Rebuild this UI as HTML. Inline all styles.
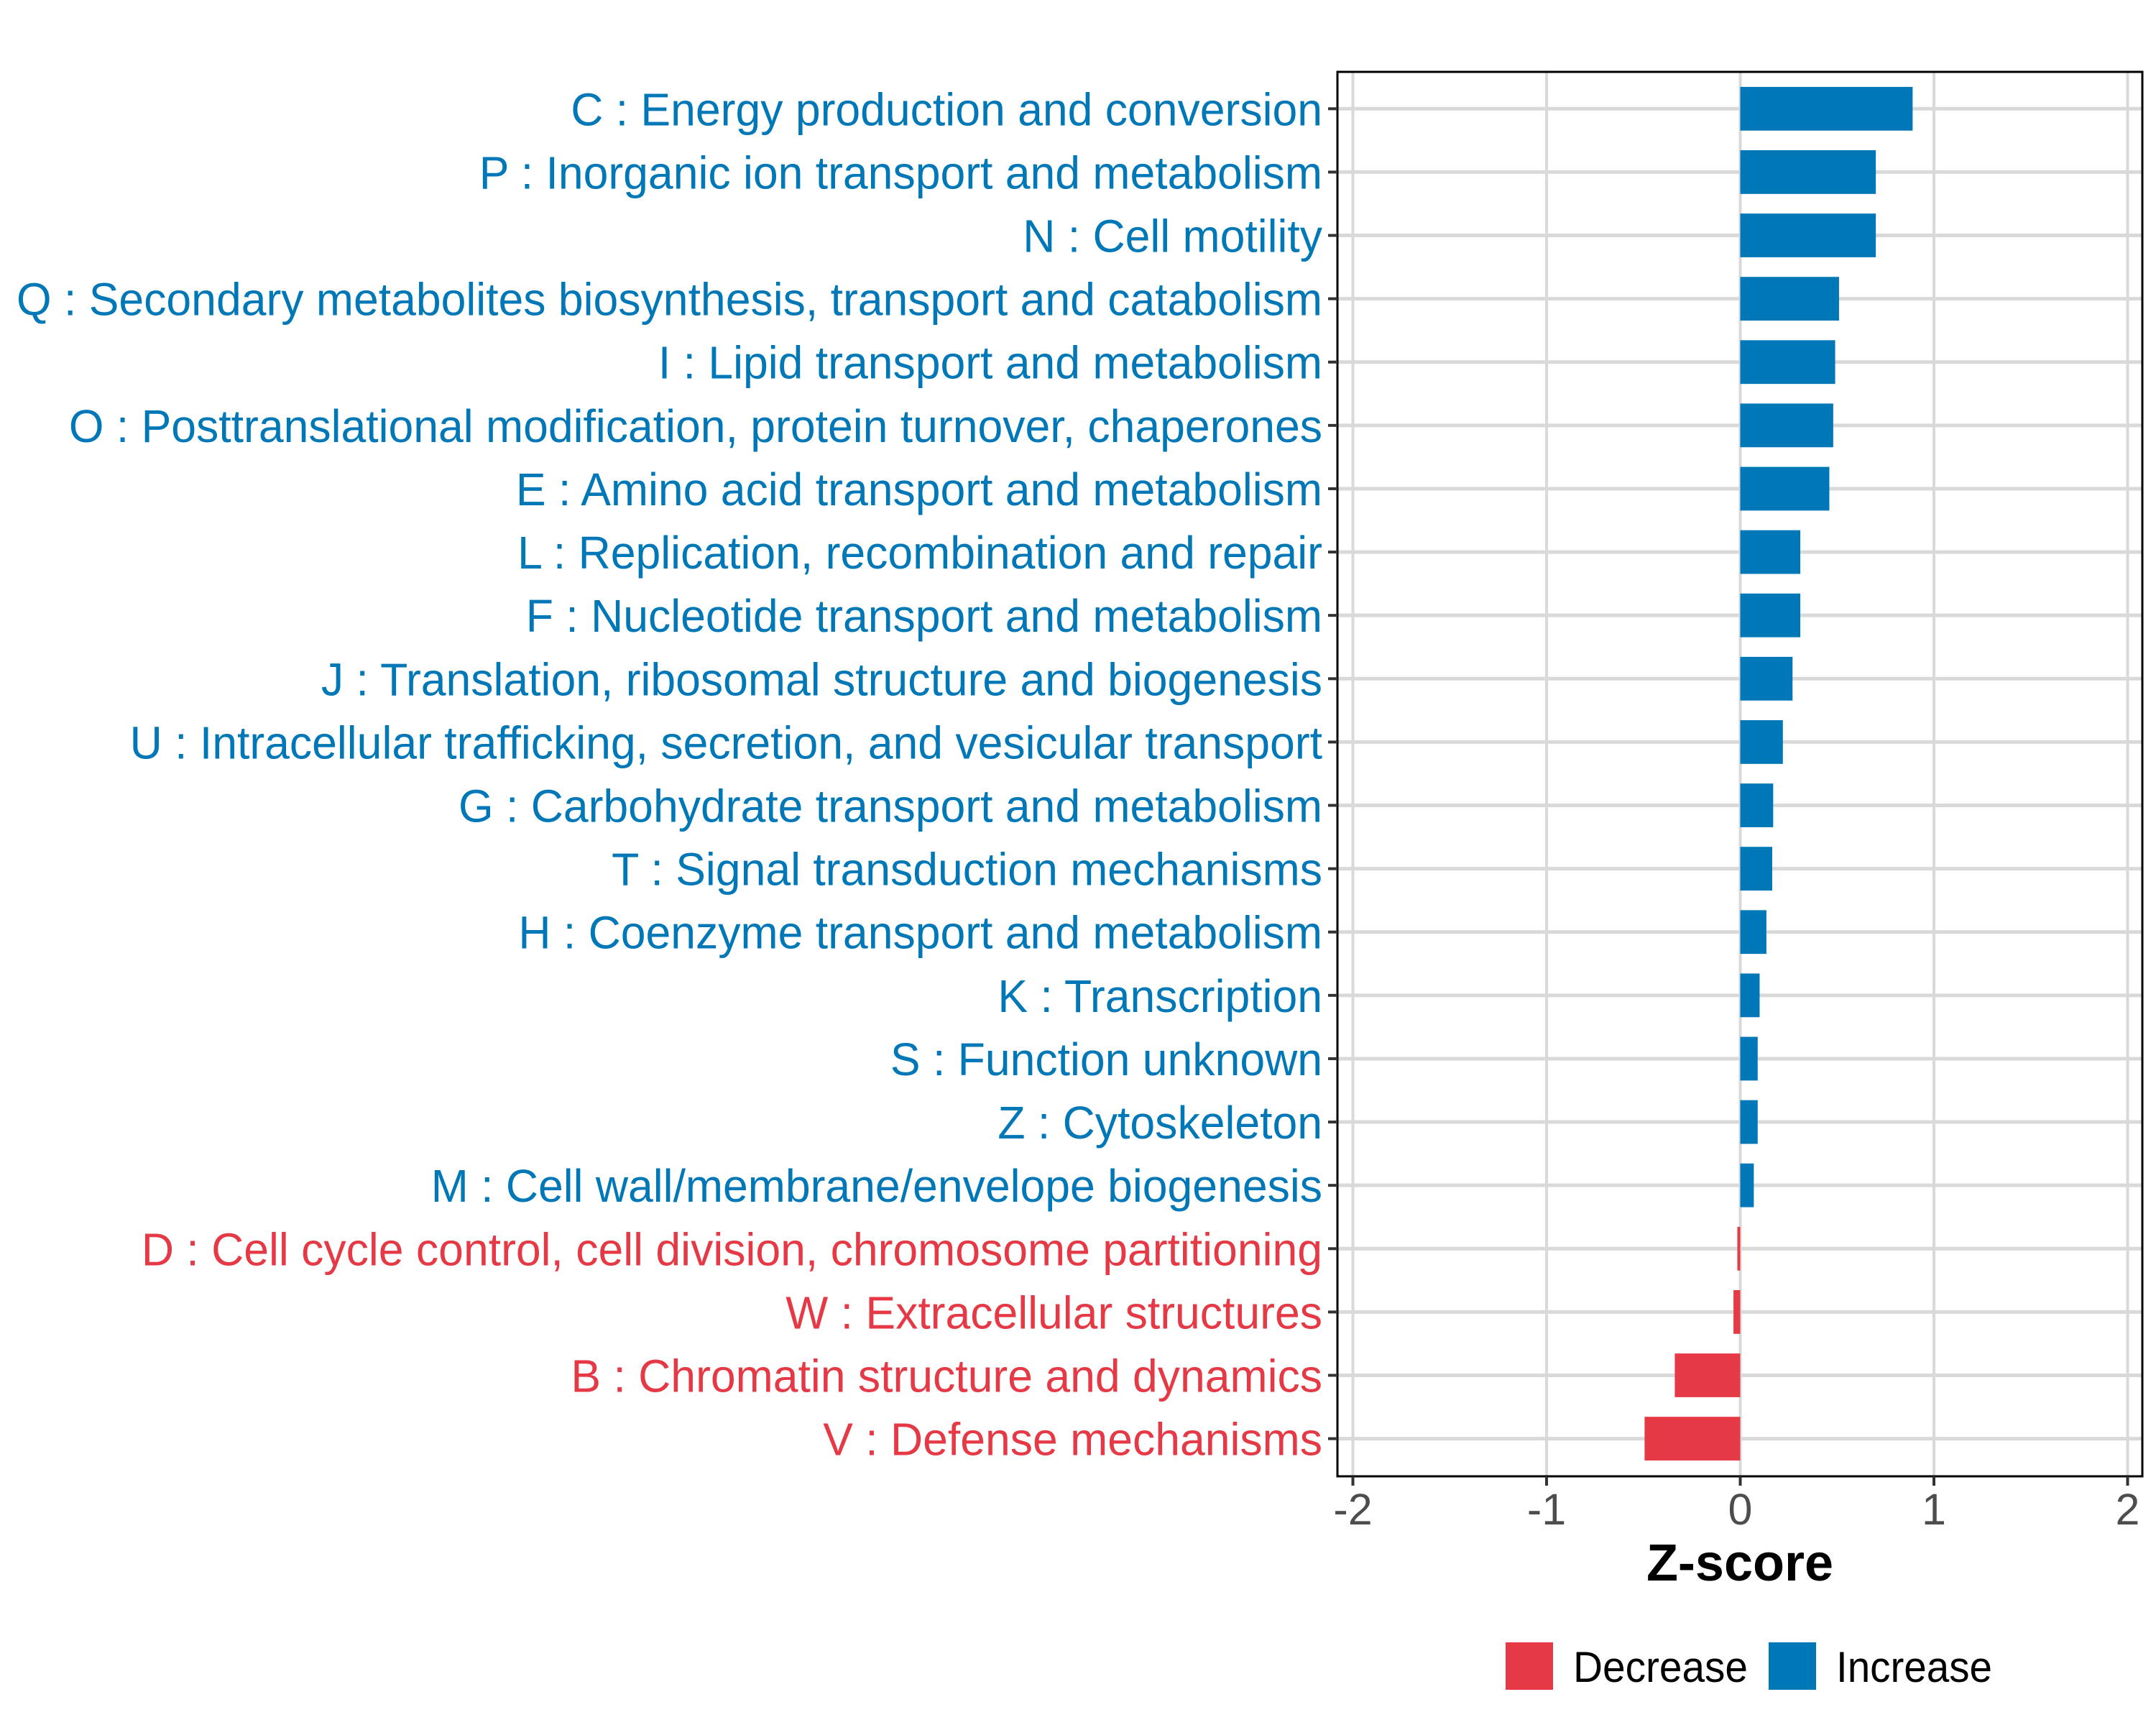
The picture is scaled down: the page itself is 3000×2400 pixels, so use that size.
<!DOCTYPE html>
<html><head><meta charset="utf-8"><style>
html,body{margin:0;padding:0;background:#fff;}
svg{display:block;font-family:"Liberation Sans",Arial,sans-serif;}
</style></head><body>
<svg id="chart" width="3000" height="2400" viewBox="0 0 3000 2400" xmlns="http://www.w3.org/2000/svg">
<rect width="3000" height="2400" fill="#fff"/>
<g id="grid"></g>
<g id="bars"></g>
<rect x="1861" y="100" width="1120" height="1954" fill="none" stroke="#000" stroke-width="3"/>
<g id="yaxis"></g>
<g id="xaxis"></g>
<text x="2421" y="2199" text-anchor="middle" font-size="72" font-weight="bold" fill="#000">Z-score</text>
<g>
<rect x="2095" y="2285" width="66" height="66" fill="#E63946"/>
<text x="2189" y="2340" font-size="60" fill="#000" textLength="243" lengthAdjust="spacingAndGlyphs">Decrease</text>
<rect x="2461" y="2285" width="66" height="66" fill="#0077B6"/>
<text x="2555" y="2340" font-size="60" fill="#000" textLength="217" lengthAdjust="spacingAndGlyphs">Increase</text>
</g>
</svg>
<script>
const categories = [
"C : Energy production and conversion",
"P : Inorganic ion transport and metabolism",
"N : Cell motility",
"Q : Secondary metabolites biosynthesis, transport and catabolism",
"I : Lipid transport and metabolism",
"O : Posttranslational modification, protein turnover, chaperones",
"E : Amino acid transport and metabolism",
"L : Replication, recombination and repair",
"F : Nucleotide transport and metabolism",
"J : Translation, ribosomal structure and biogenesis",
"U : Intracellular trafficking, secretion, and vesicular transport",
"G : Carbohydrate transport and metabolism",
"T : Signal transduction mechanisms",
"H : Coenzyme transport and metabolism",
"K : Transcription",
"S : Function unknown",
"Z : Cytoskeleton",
"M : Cell wall/membrane/envelope biogenesis",
"D : Cell cycle control, cell division, chromosome partitioning",
"W : Extracellular structures",
"B : Chromatin structure and dynamics",
"V : Defense mechanisms"];
const zscores = [0.89,0.70,0.70,0.51,0.49,0.48,0.46,0.31,0.31,0.27,0.22,0.17,0.165,0.135,0.10,0.09,0.09,0.07,-0.015,-0.035,-0.338,-0.494];
const xTicks = [-2,-1,0,1,2];
const xTickLabels = ["-2","-1","0","1","2"];

const NS="http://www.w3.org/2000/svg";
const PL=1861, PR=2981, PT=100, PB=2054;
const X0=2421.5, UNIT=269.5;
function xScale(v){return X0+v*UNIT;}
const ROW0=151.3, STEP=88.11;
function yScale(i){return ROW0+i*STEP;}
const BAR_H=STEP*0.69;
function mk(tag,attrs,parent){const e=document.createElementNS(NS,tag);for(const k in attrs)e.setAttribute(k,attrs[k]);parent.appendChild(e);return e;}
const grid=document.getElementById('grid'), bars=document.getElementById('bars'), yaxis=document.getElementById('yaxis'), xaxis=document.getElementById('xaxis');

xTicks.forEach((t,i)=>{
  const x=xScale(t);
  const g=mk('line',{x1:x,x2:x,y1:PT,y2:PB,stroke:'#d9d9d9','stroke-width':4},grid);
  
  
  const tk=mk('line',{x1:x,x2:x,y1:PB,y2:PB+13,stroke:'#333','stroke-width':4},xaxis);
  
  
  const tl=mk('text',{x:x,y:2121,'text-anchor':'middle','font-size':61,fill:'#4d4d4d'},xaxis);
  tl.textContent=xTickLabels[i];
  
  
});

const labels=[];
categories.forEach((c,i)=>{
  const y=yScale(i);
  const gl=mk('line',{x1:PL,x2:PR,y1:y,y2:y,stroke:'#d9d9d9','stroke-width':5},grid);
  
  
  const v=zscores[i];
  const col=v>=0?'#0077B6':'#E63946';
  const x1=xScale(Math.min(0,v)), x2=xScale(Math.max(0,v));
  const b=mk('rect',{x:x1,y:y-BAR_H/2,width:Math.max(x2-x1,1),height:BAR_H,fill:col},bars);
  
  
  const tk=mk('line',{x1:PL-13,x2:PL,y1:y,y2:y,stroke:'#333','stroke-width':4},yaxis);
  
  
  const t=mk('text',{x:1840,y:y+23,'text-anchor':'end','font-size':64,fill:col},yaxis);
  t.textContent=c;
  
  
  labels.push(t);
});
// horizontal compression factor calibrated from the Q label (original width ~1817px)
const qLen=labels[3].getComputedTextLength();
const k=qLen>0?1817/qLen:1;
labels.forEach(t=>{const L=t.getComputedTextLength();if(L>0){t.setAttribute('textLength',(L*k).toFixed(1));t.setAttribute('lengthAdjust','spacingAndGlyphs');}});
</script>
</body></html>
